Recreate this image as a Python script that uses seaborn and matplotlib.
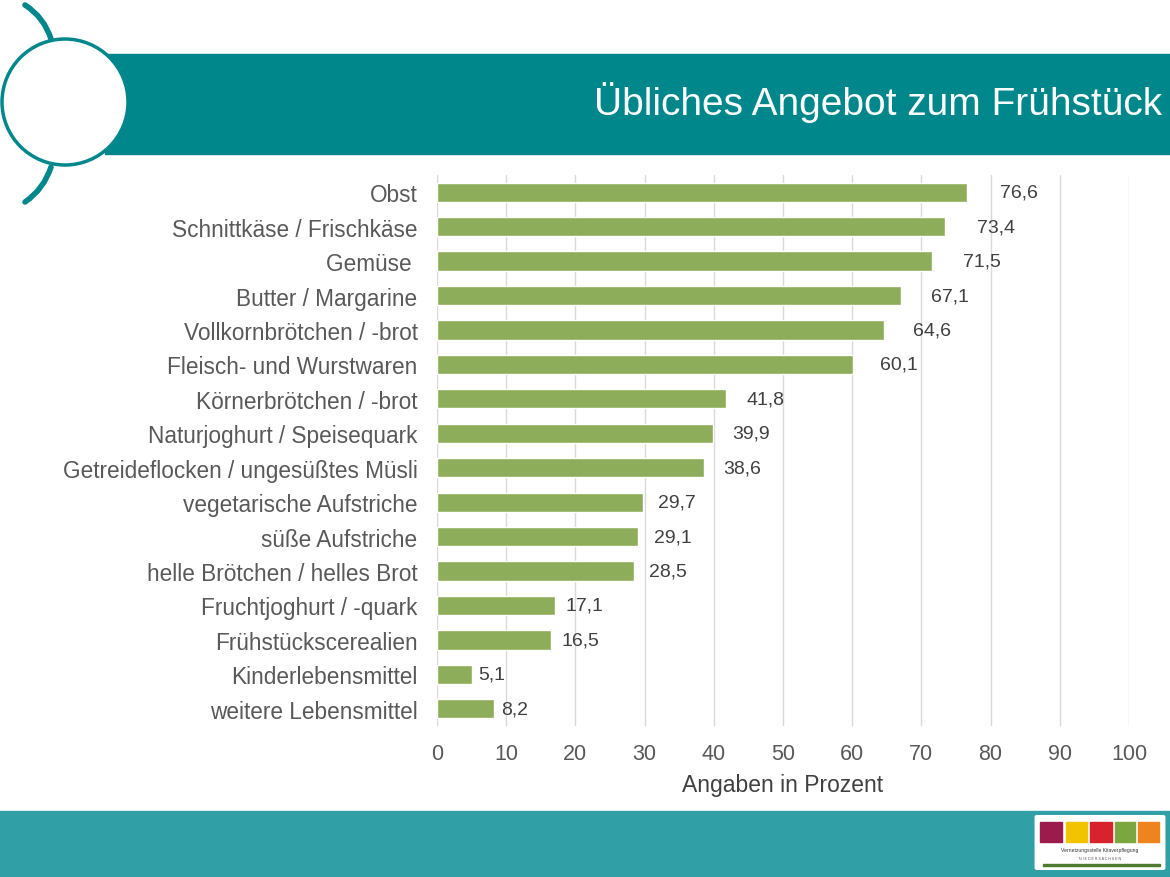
import matplotlib
matplotlib.use("Agg")
import matplotlib.pyplot as plt
import seaborn as sns
import pandas as pd
from matplotlib.patches import Rectangle, FancyBboxPatch, PathPatch, Ellipse
from matplotlib.path import Path

categories = [
    "Obst", "Schnittkäse / Frischkäse", "Gemüse ", "Butter / Margarine",
    "Vollkornbrötchen / -brot", "Fleisch- und Wurstwaren", "Körnerbrötchen / -brot",
    "Naturjoghurt / Speisequark", "Getreideflocken / ungesüßtes Müsli",
    "vegetarische Aufstriche", "süße Aufstriche", "helle Brötchen / helles Brot",
    "Fruchtjoghurt / -quark", "Frühstückscerealien", "Kinderlebensmittel",
    "weitere Lebensmittel",
]
values = [76.6, 73.4, 71.5, 67.1, 64.6, 60.1, 41.8, 39.9, 38.6, 29.7, 29.1, 28.5,
          17.1, 16.5, 5.1, 8.2]
x_ticks = [0, 10, 20, 30, 40, 50, 60, 70, 80, 90, 100]
title = "Übliches Angebot zum Frühstück"
x_label = "Angaben in Prozent"

sns.set_theme(style="white")
plt.rcParams["font.family"] = ["Liberation Sans", "DejaVu Sans"]

W, H = 1170, 878
fig = plt.figure(figsize=(W / 100, H / 100), dpi=100)
fig.patch.set_facecolor("white")

def fx(px):
    return px / W

def fy(py):
    return 1 - py / H

TEAL = "#00878B"
TEXT = "#595959"
GREEN = "#8EAD5B"

# header band
fig.patches.append(Rectangle((fx(105), fy(155)), fx(1170) - fx(105), fy(55) - fy(155),
                             transform=fig.transFigure, color=TEAL, zorder=1))
# decorative arcs
for verts in ([(25, 6), (44, 18), (51, 40)], [(51, 168), (44, 190), (25, 203)]):
    path = Path([(fx(a), fy(b)) for a, b in verts], [Path.MOVETO, Path.CURVE3, Path.CURVE3])
    fig.patches.append(PathPatch(path, transform=fig.transFigure, fill=False,
                                 edgecolor=TEAL, lw=4.0, capstyle="round", zorder=2))
# circle
fig.patches.append(Ellipse((fx(65), fy(103)), 2 * 63 / W, 2 * 63 / H,
                           transform=fig.transFigure, facecolor="white",
                           edgecolor=TEAL, lw=2.5, zorder=3))
fig.text(fx(1162), fy(103), title, ha="right", va="center", color="white",
         fontsize=28, zorder=4)

# bottom band
fig.patches.append(Rectangle((0, 0), 1, fy(812), transform=fig.transFigure,
                             color="#31A0A6", zorder=1))
# logo
fig.patches.append(FancyBboxPatch((fx(1037), fy(869)), fx(1163) - fx(1037), fy(818) - fy(869),
                                  boxstyle="round,pad=0.0015", transform=fig.transFigure,
                                  facecolor="white", edgecolor="white", zorder=2))
for (x0, x1), c in zip([(1040, 1062), (1066, 1087), (1090, 1112), (1115, 1135), (1138, 1159)],
                       ["#9B1C4C", "#F2C400", "#D8232E", "#7CA740", "#EF841F"]):
    fig.patches.append(Rectangle((fx(x0), fy(843)), fx(x1) - fx(x0), fy(823) - fy(843),
                                 transform=fig.transFigure, color=c, zorder=3))
fig.text(fx(1100), fy(851), "Vernetzungsstelle Kitaverpflegung", ha="center", va="center",
         fontsize=3.6, color="#333333", zorder=4)
fig.text(fx(1100), fy(859), "N I E D E R S A C H S E N", ha="center", va="center",
         fontsize=2.6, color="#555555", zorder=4)
fig.patches.append(Rectangle((fx(1043), fy(866.5)), fx(1160) - fx(1043), 1.5 / H,
                             transform=fig.transFigure, color="#4E7A2E", zorder=3))

# chart
ax = fig.add_axes([fx(437), fy(727), fx(1129) - fx(437), fy(176) - fy(727)])
df = pd.DataFrame({"Kategorie": categories, "Wert": values})
sns.barplot(data=df, x="Wert", y="Kategorie", orient="h", color=GREEN, width=0.56,
            saturation=1, ax=ax, zorder=3)
ax.set_xlim(0, 100)
ax.set_xticks(x_ticks)
ax.set_xticklabels([str(t) for t in x_ticks])
ax.xaxis.grid(True, color="#D9D9D9", lw=1.0)
ax.yaxis.grid(False)
ax.set_axisbelow(True)
for s in ax.spines.values():
    s.set_visible(False)
ax.tick_params(axis="y", length=0, pad=14, labelsize=16.3, labelcolor=TEXT)
ax.tick_params(axis="x", length=0, pad=12, labelsize=15.5, labelcolor=TEXT)
ax.set_ylabel("")
ax.set_xlabel(x_label, fontsize=16.5, color="#404040", labelpad=7)
ax.set_facecolor("none")

for i, v in enumerate(values):
    ax.text(v + 0.6 + 0.055 * v, i, f"{v:.1f}".replace(".", ","), ha="left", va="center",
            fontsize=14, color="#404040")

fig.savefig("out.png", dpi=100)
